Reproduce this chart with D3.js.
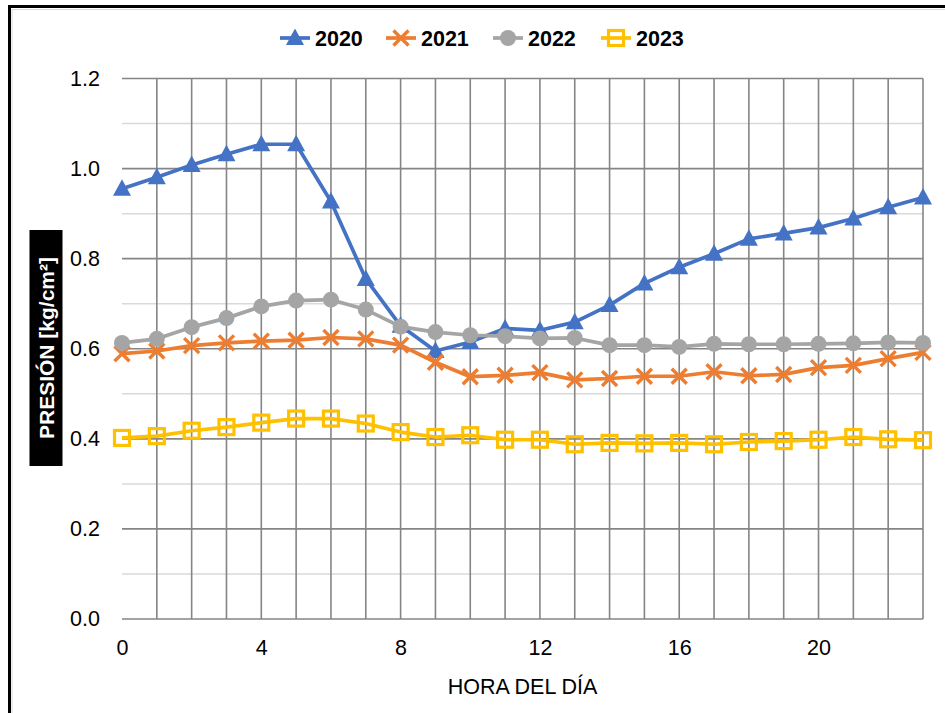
<!DOCTYPE html>
<html>
<head>
<meta charset="utf-8">
<script src="https://cdn.jsdelivr.net/npm/d3@7"></script>
<style>
  html, body { margin: 0; padding: 0; background: #fff; }
  svg { display: block; font-family: "Liberation Sans", Arial, sans-serif; }
</style>
</head>
<body>
<svg id="chart" width="945" height="713"></svg>
<script>
const hours = d3.range(0, 24);
const xTickValues = [0, 4, 8, 12, 16, 20];
const yTickValues = [0, 0.2, 0.4, 0.6, 0.8, 1.0, 1.2];
const seriesNames = ["2020", "2021", "2022", "2023"];
const values2020 = [0.955, 0.981, 1.008, 1.032, 1.054, 1.054, 0.927, 0.755, 0.651, 0.595, 0.615, 0.645, 0.641, 0.659, 0.697, 0.745, 0.781, 0.811, 0.844, 0.856, 0.869, 0.889, 0.914, 0.936];
const values2021 = [0.589, 0.595, 0.607, 0.613, 0.617, 0.619, 0.625, 0.622, 0.608, 0.570, 0.538, 0.541, 0.547, 0.531, 0.534, 0.539, 0.539, 0.549, 0.540, 0.543, 0.558, 0.563, 0.578, 0.592];
const values2022 = [0.613, 0.622, 0.648, 0.668, 0.694, 0.707, 0.709, 0.687, 0.649, 0.637, 0.630, 0.628, 0.623, 0.624, 0.608, 0.608, 0.604, 0.611, 0.610, 0.610, 0.611, 0.612, 0.614, 0.613];
const values2023 = [0.402, 0.406, 0.418, 0.426, 0.436, 0.445, 0.445, 0.434, 0.415, 0.404, 0.408, 0.398, 0.398, 0.388, 0.391, 0.390, 0.391, 0.388, 0.393, 0.395, 0.398, 0.404, 0.399, 0.397];
const seriesValues = [values2020, values2021, values2022, values2023];
const colors = ["#4472C4", "#ED7D31", "#A5A5A5", "#FFC000"];
const markerTypes = ["triangle", "x", "circle", "square"];

const svg = d3.select("#chart");
const pLeft = 122, pRight = 923, pTop = 78.5, pBottom = 619;

const x = d3.scaleLinear().domain([0, 23]).range([pLeft, pRight]);
const y = d3.scaleLinear().domain([0, 1.2]).range([pBottom, pTop]);

// outer border
svg.append("rect").attr("x", 9.5).attr("y", 6.5).attr("width", 960).attr("height", 760)
  .attr("fill", "none").attr("stroke", "#000").attr("stroke-width", 3);
svg.append("rect").attr("x", 12).attr("y", 9.5).attr("width", 960).attr("height", 760)
  .attr("fill", "none").attr("stroke", "#d9d9d9").attr("stroke-width", 1);

const grid = svg.append("g");
const minor = [0.1, 0.3, 0.5, 0.7, 0.9, 1.1];
grid.selectAll(".minor").data(minor).enter().append("line")
  .attr("x1", pLeft).attr("x2", pRight)
  .attr("y1", d => y(d)).attr("y2", d => y(d))
  .attr("stroke", "#d9d9d9").attr("stroke-width", 1.5);
grid.selectAll(".vg").data(hours.slice(1)).enter().append("line")
  .attr("x1", d => x(d)).attr("x2", d => x(d))
  .attr("y1", pTop).attr("y2", pBottom)
  .attr("stroke", "#858585").attr("stroke-width", 1.6);
grid.selectAll(".major").data(yTickValues.slice(1)).enter().append("line")
  .attr("x1", pLeft).attr("x2", pRight)
  .attr("y1", d => y(d)).attr("y2", d => y(d))
  .attr("stroke", "#858585").attr("stroke-width", 1.6);

const fontSize = 21.5;
// axes
const xAxis = svg.append("g").attr("transform", `translate(0,${pBottom})`)
  .call(d3.axisBottom(x).tickValues(xTickValues).tickSize(0).tickPadding(21).tickFormat(d3.format("d")));
xAxis.select(".domain").attr("stroke", "#858585").attr("stroke-width", 1.6).attr("d", `M${pLeft},0H${pRight}`);
xAxis.selectAll("text").attr("font-size", fontSize).attr("fill", "#000").attr("font-family", "Liberation Sans, Arial, sans-serif");

const yAxis = svg.append("g").attr("transform", `translate(${pLeft},0)`)
  .call(d3.axisLeft(y).tickValues(yTickValues).tickSize(0).tickPadding(22).tickFormat(d3.format(".1f")));
yAxis.select(".domain").remove();
yAxis.selectAll("text").attr("font-size", fontSize).attr("fill", "#000").attr("font-family", "Liberation Sans, Arial, sans-serif");

// x title
svg.append("text").attr("x", (pLeft + pRight) / 2).attr("y", 694).attr("text-anchor", "middle")
  .attr("font-size", fontSize).attr("fill", "#000").text("HORA DEL DÍA");

// y title
const yt = svg.append("g").attr("transform", "translate(46,348) rotate(-90)");
yt.append("rect").attr("x", -118).attr("y", -16.5).attr("width", 236).attr("height", 33).attr("fill", "#000");
yt.append("text").attr("x", 0).attr("y", 7.5).attr("text-anchor", "middle")
  .attr("font-size", 21).attr("font-weight", "bold").attr("fill", "#fff").text("PRESIÓN [kg/cm²]");

function drawMarker(g, type, color) {
  if (type === "triangle") {
    g.append("path").attr("d", "M0,-9.5L9,7L-9,7Z").attr("fill", color);
  } else if (type === "x") {
    g.append("path").attr("d", "M-7.5,-7.5L7.5,7.5M-7.5,7.5L7.5,-7.5").attr("stroke", color).attr("stroke-width", 3.4).attr("fill", "none");
  } else if (type === "circle") {
    g.append("circle").attr("r", 8).attr("fill", color);
  } else if (type === "square") {
    g.append("rect").attr("x", -7.5).attr("y", -7.5).attr("width", 15).attr("height", 15)
      .attr("fill", "none").attr("stroke", color).attr("stroke-width", 3.2);
  }
}

const line = d3.line().x((d, i) => x(hours[i])).y(d => y(d));
[0, 1, 2, 3].forEach(s => {
  const g = svg.append("g");
  g.append("path").datum(seriesValues[s]).attr("d", line)
    .attr("fill", "none").attr("stroke", colors[s]).attr("stroke-width", 3.7).attr("stroke-linejoin", "round");
  seriesValues[s].forEach((v, i) => {
    const mg = g.append("g").attr("transform", `translate(${x(hours[i])},${y(v)})`);
    drawMarker(mg, markerTypes[s], colors[s]);
  });
});

// legend
const legendX = [280, 386, 493, 601];
seriesNames.forEach((name, s) => {
  const lg = svg.append("g").attr("transform", `translate(${legendX[s]},38)`);
  lg.append("line").attr("x1", 0).attr("x2", 30).attr("y1", 0).attr("y2", 0)
    .attr("stroke", colors[s]).attr("stroke-width", 3.7);
  const mg = lg.append("g").attr("transform", "translate(15,0)");
  drawMarker(mg, markerTypes[s], colors[s]);
  lg.append("text").attr("x", 35).attr("y", 8).attr("font-size", fontSize).attr("font-weight", "bold")
    .attr("fill", "#000").text(name);
});
</script>
</body>
</html>
